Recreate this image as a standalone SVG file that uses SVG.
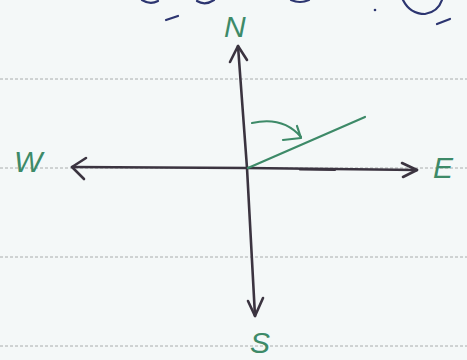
<svg xmlns="http://www.w3.org/2000/svg" width="467" height="360" viewBox="0 0 467 360">
<style>
.rule{stroke:#8a9090;stroke-width:1;stroke-dasharray:3 2;fill:none;opacity:.7}
.ink{stroke:#3b3440;stroke-width:2.6;fill:none;stroke-linecap:round;stroke-linejoin:round}
.grn{stroke:#3d8a68;stroke-width:2.2;fill:none;stroke-linecap:round;stroke-linejoin:round}
.blue{stroke:#2c3570;stroke-width:2.2;fill:none;stroke-linecap:round}
.lbl{font-family:"Liberation Sans",sans-serif;font-style:italic;fill:#3d8a68;font-size:30px}
</style>
<rect width="467" height="360" fill="#f4f8f8"/>
<g id="rules">
<line class="rule" x1="0" y1="79" x2="467" y2="79"/>
<line class="rule" x1="0" y1="168" x2="467" y2="168"/>
<line class="rule" x1="0" y1="257" x2="467" y2="257"/>
<line class="rule" x1="0" y1="346" x2="467" y2="346"/>
</g>
<g id="scribbles">
<path class="blue" d="M142,0 Q150,5 158,1"/>
<path class="blue" d="M197,1 Q205,6 214,0"/>
<path class="blue" d="M291,0 Q300,4 309,0"/>
<path class="blue" d="M403,0 Q410,14 425,14 Q438,12 442,0"/>
<path class="blue" d="M166,20 L178,16"/>
<circle cx="375" cy="10" r="1.3" fill="#2c3570"/>
<path class="blue" d="M437,24 L450,19"/>
</g>
<g id="connectors">
<path class="ink" d="M238,46 L247,168 L255,316"/>
<path class="ink" d="M230,62 L238,46 L247,60"/>
<path class="ink" d="M248,301 L255,316 L263,298"/>
<path class="ink" d="M72,167 L247,168 L417,170"/>
<path class="ink" d="M86,158 L72,167 L84,179"/>
<path class="ink" d="M402,163 L417,170 L403,177"/>
<path class="ink" d="M300,169.3 L335,169.6" stroke-width="3.2"/>
<path class="grn" d="M248,168 L365,117"/>
<path class="grn" d="M252,123 Q283,116 301,137"/>
<path class="grn" d="M297,126 L301,138 L283,140"/>
</g>
<g id="N"><text class="lbl" x="224" y="37" font-size="28">N</text></g>
<g id="W"><text class="lbl" x="14" y="172">W</text></g>
<g id="E"><text class="lbl" x="433" y="178">E</text></g>
<g id="S"><text class="lbl" x="250" y="353">S</text></g>
</svg>
